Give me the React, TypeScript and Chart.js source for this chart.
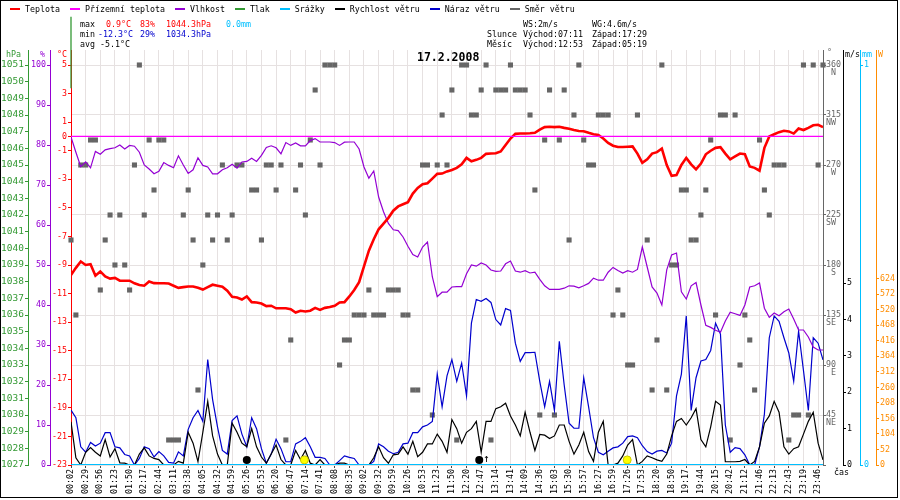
import { useEffect, useRef } from 'react';
import { Chart, registerables } from 'chart.js';

Chart.register(...registerables);

// ---------------- data ----------------
const timeLabels = ['00:02','00:29','00:56','01:23','01:50','02:17','02:44','03:11','03:38','04:05','04:32','04:59','05:26','05:53','06:20','06:47','07:14','07:41','08:08','08:35','09:02','09:32','09:59','10:26','10:53','11:23','11:50','12:20','12:47','13:14','13:41','14:09','14:36','15:03','15:30','15:57','16:27','16:59','17:26','17:53','18:20','18:50','19:17','19:44','20:15','20:42','21:12','21:46','22:13','22:43','23:19','23:46'];
const samplesPerLabel = 3;
const lastSample = 154;

const temperature = [
  -9.7, -9.2, -8.75, -9.0, -8.95, -9.75, -9.45, -9.8, -9.95, -9.9,
  -10.1, -10.1, -10.1, -10.28, -10.4, -10.45, -10.15, -10.27, -10.28, -10.28,
  -10.3, -10.45, -10.6, -10.55, -10.5, -10.5, -10.6, -10.72, -10.55, -10.38,
  -10.45, -10.52, -10.8, -11.22, -11.28, -11.42, -11.2, -11.6, -11.63, -11.7,
  -11.88, -11.85, -12.03, -12.03, -12.03, -12.1, -12.33, -12.2, -12.25, -12.2,
  -12.0, -12.14, -12.0, -11.94, -11.85, -11.62, -11.6, -11.2, -10.75, -10.2,
  -9.1, -8.0, -7.2, -6.5, -6.1, -5.7, -5.2, -4.9, -4.75, -4.6,
  -4.0, -3.6, -3.35, -3.28, -2.95, -2.62, -2.6, -2.45, -2.35, -2.2,
  -1.95, -1.5, -1.74, -1.64, -1.5, -1.22, -1.2, -1.18, -1.05, -0.6,
  -0.15, 0.18, 0.2, 0.2, 0.22, 0.25, 0.47, 0.65, 0.68, 0.65,
  0.68, 0.6, 0.54, 0.45, 0.38, 0.36, 0.25, 0.15, 0.1, -0.15,
  -0.45, -0.65, -0.74, -0.74, -0.72, -0.7, -1.2, -1.85, -1.6, -1.2,
  -1.1, -0.85, -2.0, -2.75, -2.7, -2.0, -1.5, -1.95, -2.3, -1.9,
  -1.25, -1.0, -0.8, -0.75, -1.2, -1.6, -1.4, -1.2, -1.25, -2.1,
  -2.2, -2.4, -0.8, 0.0, 0.15, 0.3, 0.4, 0.35, 0.2, 0.55,
  0.45, 0.6, 0.78, 0.82, 0.65,
];

const humidity = [
  82, 78.2, 74.6, 75.8, 74.3, 78.4, 77.7, 78.8, 79.1, 79.3,
  80.0, 79.0, 79.9, 79.7, 78.2, 75.0, 74.0, 72.8, 73.4, 75.6,
  74.9, 74.3, 77.3, 75.0, 72.9, 73.8, 76.8, 74.9, 74.5, 72.8,
  72.8, 73.8, 74.3, 75.2, 74.2, 75.75, 75.9, 76.7, 75.9, 77.4,
  79.4, 79.8, 79.3, 77.8, 80.6, 79.9, 80.5, 79.8, 79.8, 81.1,
  81.6, 80.75, 80.75, 80.75, 80.6, 79.9, 80.7, 80.75, 80.75, 79.0,
  74.5, 71.7, 73.5, 67.0, 63.3, 60.4, 58.8, 58.6, 57.0, 54.7,
  52.6, 52.0, 54.5, 55.75, 47.0, 42.1, 43.2, 43.2, 44.5, 44.6,
  44.6, 47.8, 50.0, 49.7, 50.5, 50.0, 48.75, 48.4, 48.5, 50.3,
  51.0, 48.5, 48.2, 48.6, 48.0, 48.2, 46.4, 44.8, 43.9, 43.9,
  43.9, 44.2, 44.8, 44.7, 44.3, 44.8, 45.4, 46.7, 46.2, 46.2,
  48.2, 49.4, 48.6, 48.0, 48.6, 48.2, 48.9, 54.5, 49.5, 44.5,
  43.0, 40.0, 48.8, 52.5, 53.0, 43.3, 41.5, 44.8, 45.6, 40.0,
  34.9, 34.4, 33.7, 33.2, 36.0, 38.2, 37.8, 37.4, 40.0, 44.5,
  44.8, 45.5, 39.2, 36.9, 38.0, 37.3, 38.3, 39.0, 36.5, 33.75,
  33.75, 32.0, 29.5, 28.75, 28.75,
];

const windSpeed = [
  1.19, 0.2, 0.0, 0.35, 0.48, 0.35, 0.25, 0.7, 0.22, 0.45,
  0.06, 0.05, 0.0, 0.0, 0.3, 0.47, 0.25, 0.18, 0.15, 0.0,
  0.0, 0.0, 0.1, 0.05, 0.9, 0.6, 0.09, 0.9, 1.75, 0.8,
  0.3, 0.0, 0.0, 1.15, 0.9, 0.6, 0.5, 1.0, 0.5, 0.22,
  0.05, 0.3, 0.55, 0.15, 0.0, 0.0, 0.4, 0.15, 0.4, 0.05,
  0.0, 0.15, 0.0, 0.0, 0.0, 0.05, 0.05, 0.0, 0.0, 0.0,
  0.0, 0.0, 0.2, 0.5, 0.2, 0.05, 0.28, 0.3, 0.5, 0.3,
  0.65, 0.23, 0.35, 0.58, 0.58, 0.85, 0.65, 0.35, 1.25, 1.0,
  0.6, 0.9, 1.0, 1.2, 0.35, 1.2, 1.2, 1.55, 1.6, 1.7,
  1.35, 1.1, 0.8, 1.45, 0.9, 0.4, 0.84, 0.82, 0.73, 0.8,
  1.1, 1.1, 0.65, 0.3, 0.55, 0.9, 0.37, 0.1, 0.9, 1.2,
  0.0, 0.0, 0.05, 0.25, 0.55, 0.7, 0.0, 0.1, 0.25, 0.2,
  0.14, 0.1, 0.3, 0.8, 1.2, 1.28, 1.1, 1.3, 1.55, 0.7,
  0.5, 1.05, 1.75, 1.65, 0.09, 0.09, 0.09, 0.1, 0.15, 0.0,
  0.1, 0.5, 1.15, 1.35, 1.75, 1.45, 0.5, 0.3, 0.45, 0.5,
  0.85, 1.2, 1.45, 0.6, 0.14,
];

const windGust = [
  1.51, 1.3, 0.5, 0.35, 0.62, 0.52, 0.6, 0.89, 0.89, 0.5,
  0.47, 0.29, 0.25, 0.0, 0.18, 0.5, 0.45, 0.22, 0.37, 0.25,
  0.07, 0.05, 0.36, 0.25, 0.98, 1.3, 1.5, 1.2, 2.9, 1.8,
  1.05, 0.4, 0.3, 1.22, 1.35, 0.85, 0.5, 1.3, 1.0, 0.45,
  0.05, 0.3, 0.71, 0.45, 0.09, 0.09, 0.58, 0.65, 0.75, 0.5,
  0.21, 0.21, 0.18, 0.0, 0.0, 0.12, 0.25, 0.21, 0.18, 0.0,
  0.0, 0.0, 0.1, 0.58, 0.5, 0.38, 0.31, 0.35, 0.58, 0.6,
  0.89, 0.89, 1.05, 1.1, 1.2, 2.5, 1.6, 2.45, 2.9, 2.3,
  2.8, 1.9, 3.9, 4.55, 4.5, 4.58, 4.47, 4.0, 3.85, 4.3,
  4.25, 3.35, 2.85, 3.09, 3.09, 3.1, 2.3, 1.6, 2.3, 1.5,
  3.4, 2.2, 1.15, 1.01, 1.01, 2.4, 1.6, 0.75, 0.35, 0.28,
  0.38, 0.47, 0.5, 0.6, 0.78, 0.8, 0.75, 0.53, 0.37, 0.3,
  0.38, 0.4, 0.33, 0.6, 1.9, 2.5, 4.1, 1.5, 2.4, 2.86,
  2.9, 3.15, 3.9, 3.6, 1.1, 0.35, 0.48, 0.45, 0.28, 0.0,
  0.0, 0.5, 1.4, 3.5, 4.1, 3.95, 3.5, 3.08, 2.3, 3.68,
  2.6, 1.5, 3.5, 3.35, 2.89,
];

const windDir = [
  202.5, 135, 270, 270, 292.5, 292.5, 157.5, 202.5, 225, 180,
  225, 180, 157.5, 270, 360, 225, 292.5, 247.5, 292.5, 292.5,
  22.5, 22.5, 22.5, 225, 247.5, 202.5, 67.5, 180, 225, 202.5,
  225, 270, 202.5, 225, 270, 270, null, 247.5, 247.5, 202.5,
  270, 270, 247.5, 270, 22.5, 112.5, 247.5, 270, 225, 292.5,
  337.5, 270, 360, 360, 360, 90, 112.5, 112.5, 135, 135,
  135, 157.5, 135, 135, 135, 157.5, 157.5, 157.5, 135, 135,
  67.5, 67.5, 270, 270, 45, 270, 315, 270, 337.5, 22.5,
  360, 360, 315, 315, 337.5, 360, 22.5, 337.5, 337.5, 337.5,
  360, 337.5, 337.5, 337.5, 315, 247.5, 45, 292.5, 337.5, 45,
  292.5, 337.5, 202.5, 315, 360, 292.5, 270, 270, 315, 315,
  315, 135, 157.5, 135, 90, 90, 315, null, 202.5, 67.5,
  112.5, 360, 67.5, 180, 180, 247.5, 247.5, 202.5, 202.5, 225,
  247.5, 292.5, 135, 315, 315, 22.5, 315, 90, 135, 112.5,
  67.5, 292.5, 247.5, 225, 270, 270, 270, 22.5, 45, 45,
  360, 45, 360, 270, 360,
];

const groundTempIdx = [0, 154];
const groundTemp = [0, 0];
const rainIdx = [0, 154];
const rain = [0, 0];
const pressureIdx = [0, 0];
const pressure = [1049.6, 1053.9];
const moonIdx = [36, 83.6];   // Západ 05:19, Východ 12:53
const sunIdx = [47.8, 113.9]; // Východ 07:11, Západ 17:29
const markerLevel = 0.14;

// tick values
const tempTicks = [5, 3, 1, 0, -1, -3, -5, -7, -9, -11, -13, -15, -17, -19, -21, -23];
const humTicks = [0, 10, 20, 30, 40, 50, 60, 70, 80, 90, 100];
const presTicks = [1027, 1028, 1029, 1030, 1031, 1032, 1033, 1034, 1035, 1036, 1037, 1038, 1039, 1040, 1041, 1042, 1043, 1044, 1045, 1046, 1047, 1048, 1049, 1050, 1051];
const dirTicks = [0, 45, 90, 135, 180, 225, 270, 315, 360];
const dirNames: any[] = ['', ['45', 'NE'], ['90', ' E'], ['135', 'SE'], ['180', ' S'], ['225', 'SW'], ['270', ' W'], ['315', 'NW'], ['360', ' N']];
const windTicks = [0, 1, 2, 3, 4, 5];
const rainTicks = [0, 1];
const solarTicks = [0, 52, 104, 156, 208, 260, 312, 364, 416, 468, 520, 572, 624];

const legendLabels = ['Teplota', 'Přízemní teplota', 'Vlhkost', 'Tlak', 'Srážky', 'Rychlost větru', 'Náraz větru', 'Směr větru'];
const dateTitle = '17.2.2008';

// ---------------- style ----------------
const FONT = "'DejaVu Sans Mono', monospace";
const RED = '#ff0000';
const MAGENTA = '#ff00ff';
const PURPLE = '#9400d3';
const GREEN = '#339933';
const CYAN = '#00bfff';
const BLUE = '#0000cd';
const GRAY = '#666666';
const ORANGE = '#ff8c00';
const GRID = '#e6e1e1';
const legendColors = [RED, MAGENTA, PURPLE, GREEN, CYAN, '#000000', BLUE, GRAY];

function sideAxis(o: any) {
  return {
    type: 'linear',
    axis: 'y',
    position: o.position,
    weight: o.weight,
    min: o.min,
    max: o.max,
    bounds: 'data',
    afterBuildTicks: (s: any) => { s.ticks = o.ticks.map((v: number) => ({ value: v })); },
    afterFit: (s: any) => { s.width = o.width; },
    border: { display: true, color: o.color, width: 1 },
    grid: o.grid
      ? { color: GRID, lineWidth: 1, drawTicks: true, tickLength: 3, tickColor: o.color }
      : { drawOnChartArea: false, drawTicks: true, tickLength: 3, tickColor: o.color, color: o.color },
    ticks: {
      autoSkip: false,
      color: o.color,
      padding: o.padding ?? 1,
      labelOffset: o.labelOffset ?? 0,
      font: { family: FONT, size: o.fontSize ?? 8.3, lineHeight: o.lineHeight ?? 1.2 },
      callback: o.labels ?? ((v: number) => String(v)),
    },
  };
}

function Txt({ x, y, color = '#000', size = 8.3, bold = false, children }: any) {
  return (
    <div style={{ position: 'absolute', left: x, top: y - 6, height: 12, lineHeight: '12px', fontSize: size, fontWeight: bold ? 700 : 400, color, whiteSpace: 'pre', fontFamily: FONT }}>
      {children}
    </div>
  );
}

export default function App() {
  const ref = useRef<HTMLCanvasElement>(null);

  useEffect(() => {
    if (!ref.current) return;
    const pts = (ys: any[], xs?: number[]) => ys.map((y, i) => ({ x: xs ? xs[i] : i, y }));
    const chart = new Chart(ref.current, {
      type: 'line',
      data: {
        datasets: [
          { label: 'Srážky', data: pts(rain, rainIdx), yAxisID: 'yRain', borderColor: CYAN, borderWidth: 2, pointRadius: 0, order: 0 },
          { label: 'Měsíc', data: moonIdx.map((x) => ({ x, y: markerLevel })), yAxisID: 'yWind', showLine: false, pointRadius: 4, pointBackgroundColor: '#000', pointBorderColor: '#000', pointBorderWidth: 0, order: 1, clip: false },
          { label: 'Slunce', data: sunIdx.map((x) => ({ x, y: markerLevel })), yAxisID: 'yWind', showLine: false, pointRadius: 4, pointBackgroundColor: '#ffff00', pointBorderColor: '#c8c800', pointBorderWidth: 1, order: 1, clip: false },
          { label: 'Přízemní teplota', data: pts(groundTemp, groundTempIdx), yAxisID: 'yTemp', borderColor: MAGENTA, borderWidth: 1.2, pointRadius: 0, order: 2 },
          { label: 'Teplota', data: pts(temperature), yAxisID: 'yTemp', borderColor: RED, borderWidth: 2.6, pointRadius: 0, order: 3 },
          { label: 'Vlhkost', data: pts(humidity), yAxisID: 'yHum', borderColor: PURPLE, borderWidth: 1.2, pointRadius: 0, order: 4 },
          { label: 'Rychlost větru', data: pts(windSpeed), yAxisID: 'yWind', borderColor: '#000', borderWidth: 1.2, pointRadius: 0, order: 5 },
          { label: 'Náraz větru', data: pts(windGust), yAxisID: 'yWind', borderColor: BLUE, borderWidth: 1.2, pointRadius: 0, order: 6 },
          { label: 'Směr větru', data: pts(windDir), yAxisID: 'yDir', showLine: false, pointStyle: 'rect', pointRadius: 3.6, pointBackgroundColor: GRAY, pointBorderWidth: 0, order: 7, clip: false },
          { label: 'Tlak', data: pts(pressure, pressureIdx), yAxisID: 'yPres', borderColor: GREEN, borderWidth: 1.3, pointRadius: 0, order: 8, clip: false },
        ] as any,
      },
      options: {
        animation: false,
        responsive: false,
        maintainAspectRatio: false,
        events: [],
        layout: { padding: { top: 50, left: 0, right: 0, bottom: 0 } },
        plugins: { legend: { display: false }, tooltip: { enabled: false }, title: { display: false } },
        elements: { point: { radius: 0 }, line: { tension: 0 } },
        scales: {
          x: {
            type: 'linear',
            position: 'bottom',
            min: 0,
            max: lastSample,
            bounds: 'data',
            afterBuildTicks: (s: any) => { s.ticks = timeLabels.map((_, k) => ({ value: k * samplesPerLabel })); },
            afterFit: (s: any) => { s.height = 35; },
            border: { display: false },
            grid: { color: GRID, lineWidth: 1, drawTicks: true, tickLength: 3, tickColor: '#444' },
            ticks: {
              autoSkip: false, minRotation: 90, maxRotation: 90, padding: 1, color: '#000',
              font: { family: FONT, size: 8.3 },
              callback: (_v: any, i: number) => timeLabels[i],
            },
          },
          y: { display: false },
          yTemp: sideAxis({ position: 'left', weight: 0, color: RED, min: -23, max: 6.05, ticks: tempTicks, width: 21 }),
          yHum: sideAxis({ position: 'left', weight: 1, color: PURPLE, min: 0, max: 103.75, ticks: humTicks, width: 22 }),
          yPres: sideAxis({ position: 'left', weight: 2, color: GREEN, min: 1027, max: 1051.9, ticks: presTicks, width: 28, fontSize: 9.5 }),
          yDir: sideAxis({ position: 'right', weight: 0, color: GRAY, min: 0, max: 373.5, ticks: dirTicks, width: 20, grid: true, padding: 0, lineHeight: 1.0, labelOffset: 4.15, labels: (_v: any, i: number) => dirNames[i] }),
          yWind: sideAxis({ position: 'right', weight: 1, color: '#000', min: 0, max: 11.4125, ticks: windTicks, width: 17 }),
          yRain: sideAxis({ position: 'right', weight: 2, color: CYAN, min: 0, max: 1.0375, ticks: rainTicks, width: 16 }),
          ySolar: sideAxis({ position: 'right', weight: 3, color: ORANGE, min: 0, max: 1390, ticks: solarTicks, width: 24 }),
        } as any,
      },
    });
    return () => chart.destroy();
  }, []);

  return (
    <div style={{ position: 'absolute', left: 0, top: 0, width: 900, height: 500, background: '#fff', overflow: 'hidden', fontFamily: FONT }}>
      <canvas ref={ref} width={900} height={500} style={{ position: 'absolute', left: 0, top: 0, width: 900, height: 500 }} />

      {/* legend */}
      <div style={{ position: 'absolute', left: 10, top: 3, height: 12, display: 'flex', alignItems: 'center', fontSize: 8.3, fontFamily: FONT, whiteSpace: 'pre' }}>
        {legendLabels.map((l, i) => (
          <div key={l} style={{ display: 'flex', alignItems: 'center', marginRight: 10 }}>
            <span style={{ display: 'inline-block', width: 10, height: 2, background: legendColors[i], marginRight: 5 }} />
            <span style={{ lineHeight: '12px' }}>{l}</span>
          </div>
        ))}
      </div>

      {/* stats */}
      <Txt x={80} y={24}>max</Txt>
      <Txt x={106} y={24} color={RED}>0.9°C</Txt>
      <Txt x={140} y={24} color={RED}>83%</Txt>
      <Txt x={166} y={24} color={RED}>1044.3hPa</Txt>
      <Txt x={226} y={24} color={CYAN}>0.0mm</Txt>
      <Txt x={80} y={34}>min</Txt>
      <Txt x={98} y={34} color={BLUE}>-12.3°C</Txt>
      <Txt x={140} y={34} color={BLUE}>29%</Txt>
      <Txt x={166} y={34} color={BLUE}>1034.3hPa</Txt>
      <Txt x={80} y={44}>avg -5.1°C</Txt>

      <Txt x={523} y={24}>WS:2m/s</Txt>
      <Txt x={592} y={24}>WG:4.6m/s</Txt>
      <Txt x={487} y={34}>Slunce</Txt>
      <Txt x={523} y={34}>Východ:07:11</Txt>
      <Txt x={592} y={34}>Západ:17:29</Txt>
      <Txt x={487} y={44}>Měsíc</Txt>
      <Txt x={523} y={44}>Východ:12:53</Txt>
      <Txt x={592} y={44}>Západ:05:19</Txt>

      <Txt x={417} y={57} size={11.5} bold>{dateTitle}</Txt>

      {/* axis titles */}
      <Txt x={6} y={54} color={GREEN}>hPa</Txt>
      <Txt x={40} y={54} color={PURPLE}>%</Txt>
      <Txt x={57} y={54} color={RED}>°C</Txt>
      <Txt x={827} y={52} color={GRAY}>°</Txt>
      <Txt x={845} y={54}>m/s</Txt>
      <Txt x={862} y={54} color={CYAN}>mm</Txt>
      <Txt x={878} y={54} color={ORANGE}>W</Txt>
      <Txt x={834} y={472}>čas</Txt>
      <Txt x={483} y={459} size={11}>↑</Txt>

      <div style={{ position: 'absolute', left: 0, top: 0, width: 898, height: 498, border: '1px solid #000', boxSizing: 'border-box', pointerEvents: 'none' }} />
    </div>
  );
}
